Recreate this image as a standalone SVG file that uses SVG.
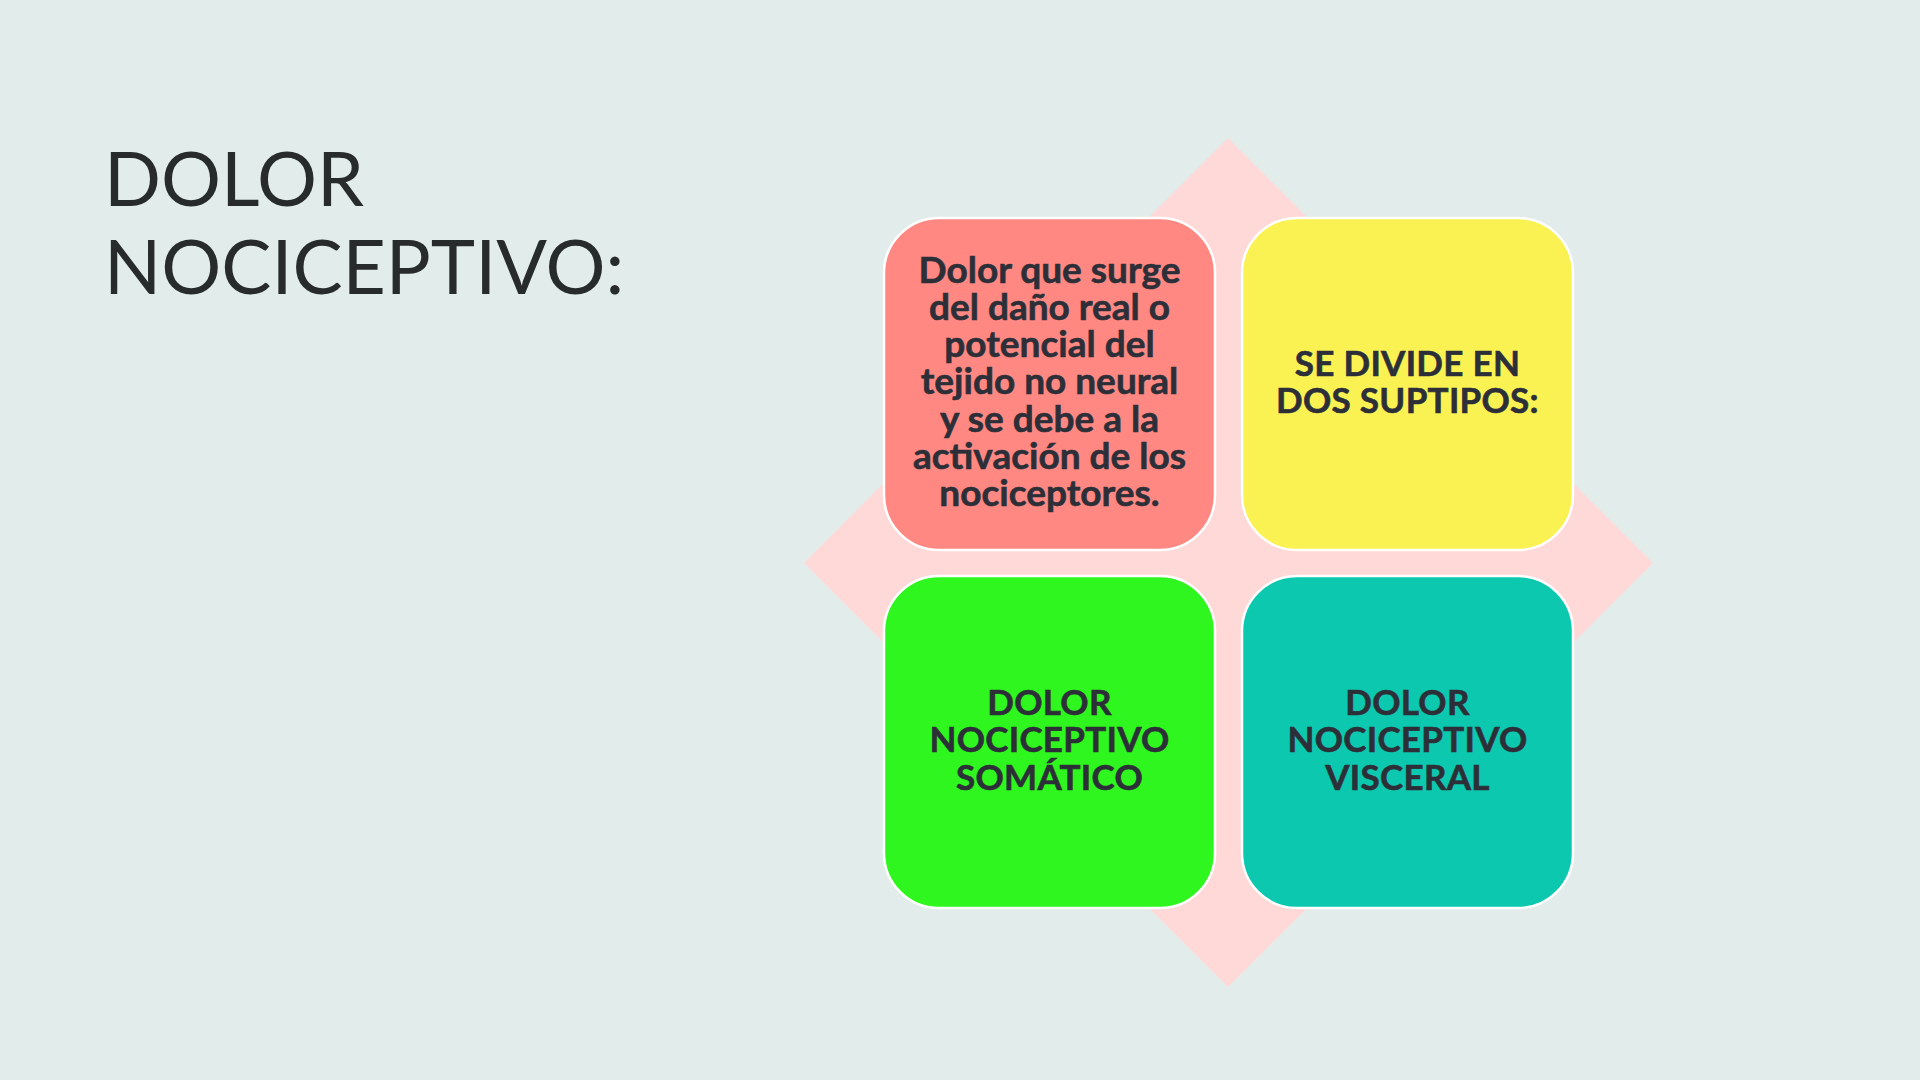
<svg xmlns="http://www.w3.org/2000/svg" width="1920" height="1080" viewBox="0 0 1920 1080">
  <style>
    .title { font-family: Lato, "Liberation Sans", sans-serif; font-size: 75px; fill: #272b2c; }
    .box { stroke: #ffffff; stroke-width: 2.5; }
    .t { font-family: Lato, "Open Sans", "Liberation Sans", sans-serif; font-weight: 700; fill: #2c2f38; stroke: #2c2f38; stroke-width: 0.6; text-anchor: middle; }
    .lc { font-size: 37px; }
    .uc { font-size: 35px; letter-spacing: 0.3px; }
  </style>
  <rect x="0" y="0" width="1920" height="1080" fill="#e2ecea"/>
  <g id="title">
    <text class="title" x="104" y="206">DOLOR</text>
    <text class="title" x="104" y="294">NOCICEPTIVO:</text>
  </g>
  <g id="backdrop">
    <polygon points="1228,138 1653,563 1228,987 804,563" fill="#ffd9d8"/>
  </g>
  <g id="node-definicion">
    <rect class="box" x="884" y="218" width="331" height="332" rx="55" ry="55" fill="#ff8883"/>
    <text class="t lc" x="1049.5" y="283">Dolor que surge</text>
    <text class="t lc" x="1049.5" y="320">del daño real o</text>
    <text class="t lc" x="1049.5" y="357">potencial del</text>
    <text class="t lc" x="1049.5" y="394">tejido no neural</text>
    <text class="t lc" x="1049.5" y="432">y se debe a la</text>
    <text class="t lc" x="1049.5" y="469">activación de los</text>
    <text class="t lc" x="1049.5" y="506">nociceptores.</text>
  </g>
  <g id="node-subtipos">
    <rect class="box" x="1242" y="218" width="331" height="332" rx="55" ry="55" fill="#faf252"/>
    <text class="t uc" x="1407.5" y="376">SE DIVIDE EN</text>
    <text class="t uc" x="1407.5" y="413">DOS SUPTIPOS:</text>
  </g>
  <g id="node-somatico">
    <rect class="box" x="884" y="576" width="331" height="332" rx="55" ry="55" fill="#2ef61e"/>
    <text class="t uc" x="1049.5" y="715">DOLOR</text>
    <text class="t uc" x="1049.5" y="752">NOCICEPTIVO</text>
    <text class="t uc" x="1049.5" y="790">SOMÁTICO</text>
  </g>
  <g id="node-visceral">
    <rect class="box" x="1242" y="576" width="331" height="332" rx="55" ry="55" fill="#0cc8ae"/>
    <text class="t uc" x="1407.5" y="715">DOLOR</text>
    <text class="t uc" x="1407.5" y="752">NOCICEPTIVO</text>
    <text class="t uc" x="1407.5" y="790">VISCERAL</text>
  </g>
  <g id="connectors"></g>
</svg>
